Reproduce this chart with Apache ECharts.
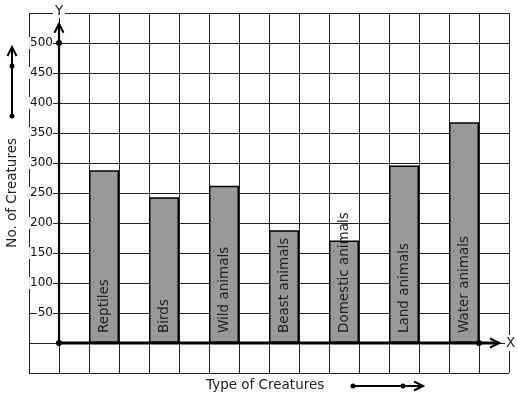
<!DOCTYPE html>
<html><head><meta charset="utf-8">
<script src="https://cdn.jsdelivr.net/npm/echarts@6/dist/echarts.min.js"></script>
<style>html,body{margin:0;padding:0;background:#fff}#c{width:517px;height:399px}</style>
</head><body><div id="c"></div>
<script>
const categories = ['Reptiles', 'Birds', 'Wild animals', 'Beast animals', 'Domestic animals', 'Land animals', 'Water animals'];
const values = [288, 243, 262, 188, 171, 296, 368];
const yTickLabels = [50, 100, 150, 200, 250, 300, 350, 400, 450, 500];
const yTitle = 'No. of Creatures';
const xTitle = 'Type of Creatures';

const FONT = 'DejaVu Sans';
const chart = echarts.init(document.getElementById('c'), null, {renderer: 'canvas'});

const barData = categories.map((c, i) => ({name: c, value: [1.5 + 2 * i, values[i]]}));

const axisEnds = {yTip: 532, xTip: 14.67, yDot: 500, xDot: 14};

function renderAxes(params, api) {
  const o = api.coord([0, 0]);
  const yt = api.coord([0, axisEnds.yTip]);
  const xt = api.coord([axisEnds.xTip, 0]);
  const yd = api.coord([0, axisEnds.yDot]);
  const xd = api.coord([axisEnds.xDot, 0]);
  return {
    type: 'group',
    children: [
      {type: 'line', shape: {x1: o[0], y1: o[1], x2: yt[0], y2: yt[1]}, style: {stroke: '#000', lineWidth: 2.2, fill: null}},
      {type: 'polyline', shape: {points: [[yt[0] - 4.5, yt[1] + 9], [yt[0], yt[1]], [yt[0] + 4.5, yt[1] + 9]]}, style: {stroke: '#000', lineWidth: 2, fill: null}},
      {type: 'line', shape: {x1: o[0], y1: o[1], x2: xt[0], y2: xt[1]}, style: {stroke: '#000', lineWidth: 2.8, fill: null}},
      {type: 'polyline', shape: {points: [[xt[0] - 9, xt[1] - 4.5], [xt[0], xt[1]], [xt[0] - 9, xt[1] + 4.5]]}, style: {stroke: '#000', lineWidth: 2, fill: null}},
      {type: 'circle', shape: {cx: o[0], cy: o[1], r: 3}, style: {fill: '#000'}},
      {type: 'circle', shape: {cx: yd[0], cy: yd[1], r: 3}, style: {fill: '#000'}},
      {type: 'circle', shape: {cx: xd[0], cy: xd[1], r: 3}, style: {fill: '#000'}}
    ]
  };
}

const option = {
  backgroundColor: '#fff',
  animation: false,
  grid: {left: 29, top: 13, width: 480, height: 360, containLabel: false, outerBoundsMode: 'none'},
  xAxis: {
    type: 'value', min: -1, max: 15, interval: 1,
    axisLine: {show: true, onZero: true, lineStyle: {opacity: 0}},
    axisTick: {show: false},
    axisLabel: {show: false},
    splitLine: {show: true, lineStyle: {color: '#222', width: 1}},
    name: 'X', nameLocation: 'end', nameGap: -4,
    nameTextStyle: {fontFamily: FONT, fontSize: 13.5, color: '#222', backgroundColor: '#fff', padding: [1, 1], verticalAlign: 'middle', align: 'left'}
  },
  yAxis: {
    type: 'value', min: -50, max: 550, interval: 50,
    position: 'left', offset: -30,
    axisLine: {show: true, onZero: false, lineStyle: {opacity: 0}},
    axisTick: {show: false},
    axisLabel: {
      margin: 6, fontFamily: FONT, fontSize: 12, color: '#111',
      backgroundColor: '#fff', padding: [0, 0, 0, 1],
      formatter: v => (yTickLabels.indexOf(v) >= 0 ? String(v) : '')
    },
    splitLine: {show: true, lineStyle: {color: '#222', width: 1}},
    name: 'Y', nameLocation: 'end', nameGap: -5,
    nameTextStyle: {fontFamily: FONT, fontSize: 13.5, color: '#222', backgroundColor: '#fff', padding: [0, 2]}
  },
  graphic: [
    {type: 'text', left: 5, top: 138, rotation: Math.PI / 2, z: 10,
     style: {text: yTitle, font: '13.5px "DejaVu Sans"', fill: '#222'}},
    {type: 'text', left: 206, top: 378, z: 10,
     style: {text: xTitle, font: '13.5px "DejaVu Sans"', fill: '#222'}},
    {type: 'group', z: 10, children: [
      {type: 'line', shape: {x1: 12, y1: 116, x2: 12, y2: 48}, style: {stroke: '#000', lineWidth: 2}},
      {type: 'polyline', shape: {points: [[7.5, 56], [12, 47], [16.5, 56]]}, style: {stroke: '#000', lineWidth: 2, fill: null}},
      {type: 'circle', shape: {cx: 12, cy: 66, r: 2.5}, style: {fill: '#000'}},
      {type: 'circle', shape: {cx: 12, cy: 116, r: 2.5}, style: {fill: '#000'}}
    ]},
    {type: 'group', z: 10, children: [
      {type: 'line', shape: {x1: 353, y1: 386, x2: 422, y2: 386}, style: {stroke: '#000', lineWidth: 2}},
      {type: 'polyline', shape: {points: [[414, 381.5], [423, 386], [414, 390.5]]}, style: {stroke: '#000', lineWidth: 2, fill: null}},
      {type: 'circle', shape: {cx: 353, cy: 386, r: 2.5}, style: {fill: '#000'}},
      {type: 'circle', shape: {cx: 403, cy: 386, r: 2.5}, style: {fill: '#000'}}
    ]}
  ],
  series: [
    {
      type: 'bar', data: barData, barWidth: 30, z: 2,
      itemStyle: {color: '#999999', borderColor: '#000', borderWidth: 1.5},
      label: {
        show: true, formatter: '{b}', position: 'insideBottom', rotate: 90,
        align: 'left', verticalAlign: 'middle', distance: 10,
        fontFamily: FONT, fontSize: 13.5, color: '#222'
      }
    },
    {type: 'custom', data: [[0, 0]], renderItem: renderAxes, z: 5, silent: true}
  ]
};
chart.setOption(option);
</script></body></html>
